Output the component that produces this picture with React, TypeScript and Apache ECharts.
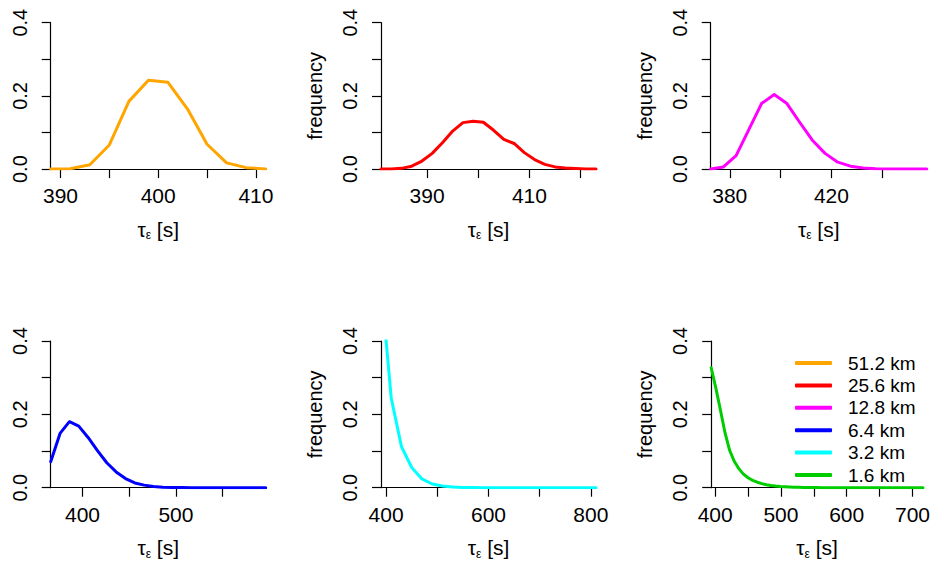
import React, { useEffect, useRef } from "react";
import * as echarts from "echarts";

// ---- data ----
const seriesNames = ["51.2 km", "25.6 km", "12.8 km", "6.4 km", "3.2 km", "1.6 km"];
const seriesColors = ["#FFA500", "#FF0000", "#FF00FF", "#0000FF", "#00FFFF", "#00CD00"];

const x512 = [389, 391, 393, 395, 397, 399, 401, 403, 405, 407, 409, 411];
const y512 = [0, 0.001, 0.012, 0.066, 0.185, 0.243, 0.237, 0.164, 0.068, 0.017, 0.004, 0.0005];

const x256 = [381, 383, 385, 387, 389, 391, 393, 395, 397, 399, 401, 403, 405, 407, 409, 411, 413, 415, 417, 419, 421, 423];
const y256 = [0, 0.0005, 0.002, 0.008, 0.022, 0.043, 0.072, 0.104, 0.127, 0.131, 0.128, 0.106, 0.081, 0.07, 0.045, 0.026, 0.013, 0.006, 0.003, 0.0015, 0.0005, 0];

const x128 = [372.5, 377.5, 382.5, 387.5, 392.5, 397.5, 402.5, 407.5, 412.5, 417.5, 422.5, 427.5, 432.5, 437.5, 442.5, 447.5, 452.5, 457.5];
const y128 = [0, 0.006, 0.037, 0.108, 0.179, 0.204, 0.179, 0.128, 0.079, 0.043, 0.019, 0.008, 0.003, 0.001, 0.0004, 0.0001, 0, 0];

const x64 = [366, 376, 386, 396, 406, 416, 426, 436, 446, 456, 466, 476, 486, 496, 506, 516, 526, 536, 546, 556, 566, 576, 586, 596];
const y64 = [0.071, 0.148, 0.18, 0.168, 0.137, 0.101, 0.068, 0.043, 0.025, 0.013, 0.007, 0.003, 0.0015, 0.0007, 0.0003, 0, 0, 0, 0, 0, 0, 0, 0, 0];

const x32 = [390, 410, 430, 450, 470, 490, 510, 530, 550, 570, 590, 610, 630, 650, 670, 690, 710, 730, 750, 770, 790, 810];
const y32 = [0.556, 0.244, 0.112, 0.055, 0.024, 0.01, 0.0045, 0.002, 0.0008, 0.0003, 0.0001, 0, 0, 0, 0, 0, 0, 0, 0, 0, 0, 0];

const x16 = [394, 401, 408, 415, 422, 429, 436, 443, 450, 457, 464, 471, 478, 485, 492, 499, 506, 513, 520, 527, 534, 541, 548, 555, 562, 569, 576, 600, 650, 700, 716];
const y16 = [0.327, 0.272, 0.212, 0.15, 0.102, 0.072, 0.052, 0.037, 0.027, 0.02, 0.015, 0.011, 0.008, 0.006, 0.0045, 0.0033, 0.0025, 0.0018, 0.0013, 0.001, 0.0008, 0.0006, 0.0004, 0.0003, 0.0002, 0.0001, 0, 0, 0, 0, 0];

const xData = [x512, x256, x128, x64, x32, x16];
const yData = [y512, y256, y128, y64, y32, y16];

const xMin = [389, 381, 372.5, 366, 390, 394];
const xMax = [411, 423, 457.5, 596, 810, 716];
const xTicks = [
  [390, 395, 400, 405, 410],
  [390, 400, 410, 420],
  [380, 400, 420, 440],
  [400, 450, 500, 550],
  [400, 500, 600, 700, 800],
  [400, 450, 500, 550, 600, 650, 700],
];
const xLabels = [
  [390, 400, 410],
  [390, 410],
  [380, 420],
  [400, 500],
  [400, 600, 800],
  [400, 500, 600, 700],
];
const yTicks = [0, 0.1, 0.2, 0.3, 0.4];
const yLabels = [0, 0.2, 0.4];
const showYName = [false, true, true, false, true, true];

const xAxisTitle = "{t|τ}{e|ε}{s| [s]}";
const yAxisTitle = "frequency";

// ---- layout ----
const gridBoxes = [
  { left: 50.7, top: 22.7, width: 215, height: 146.4 },
  { left: 381, top: 22.7, width: 215, height: 146.4 },
  { left: 710.7, top: 22.7, width: 216, height: 146.4 },
  { left: 50.7, top: 341, width: 215, height: 146.7 },
  { left: 381, top: 341, width: 215, height: 146.7 },
  { left: 711.2, top: 341, width: 215.5, height: 146.7 },
];

const FONT = '"Liberation Sans", Arial, Helvetica, sans-serif';

export default function App() {
  const ref = useRef<HTMLDivElement>(null);

  useEffect(() => {
    if (!ref.current) return;
    const chart = echarts.init(ref.current, undefined, { renderer: "svg" });

    const axisLine = { show: true, onZero: false, lineStyle: { color: "#000", width: 1.2 } };
    const axisTickBase = { show: true, length: 9, lineStyle: { color: "#000", width: 1.2 } };

    const grid = gridBoxes.map((g) => ({ ...g, containLabel: false }));

    const xAxis = gridBoxes.map((_, i) => ({
      type: "value",
      gridIndex: i,
      min: xMin[i],
      max: xMax[i],
      axisLine,
      axisTick: { ...axisTickBase, customValues: xTicks[i] },
      axisLabel: {
        customValues: xLabels[i],
        color: "#000",
        fontSize: 21,
        fontFamily: FONT,
        margin: 16,
        formatter: (v: number) => String(v),
      },
      splitLine: { show: false },
      name: xAxisTitle,
      nameLocation: "middle",
      nameGap: 48,
      nameTextStyle: {
        color: "#000",
        fontFamily: FONT,
        rich: {
          t: { fontSize: 21, fontFamily: FONT, color: "#000", lineHeight: 24 },
          e: { fontSize: 12, fontFamily: FONT, color: "#000", lineHeight: 12, verticalAlign: "bottom" },
          s: { fontSize: 21, fontFamily: FONT, color: "#000", lineHeight: 24 },
        },
      },
    }));

    const yAxis = gridBoxes.map((_, i) => ({
      type: "value",
      gridIndex: i,
      min: 0,
      max: 0.4,
      axisLine,
      axisTick: { ...axisTickBase, customValues: yTicks },
      axisLabel: {
        customValues: yLabels,
        rotate: 90,
        color: "#000",
        fontSize: 20,
        fontFamily: FONT,
        margin: 21,
        formatter: (v: number) => v.toFixed(1),
      },
      splitLine: { show: false },
      name: showYName[i] ? yAxisTitle : "",
      nameLocation: "middle",
      nameRotate: 90,
      nameGap: 56,
      nameTextStyle: { color: "#000", fontSize: 20, fontFamily: FONT },
    }));

    const series = seriesNames.map((name, i) => ({
      name,
      type: "line",
      xAxisIndex: i,
      yAxisIndex: i,
      data: xData[i].map((x, k) => [x, yData[i][k]]),
      showSymbol: false,
      symbol: "none",
      clip: true,
      color: seriesColors[i],
      lineStyle: { color: seriesColors[i], width: 3, join: "round", cap: "round" },
    }));

    chart.setOption({
      animation: false,
      backgroundColor: "#fff",
      grid,
      xAxis,
      yAxis,
      series,
      legend: {
        orient: "vertical",
        left: 790,
        top: 348,
        itemWidth: 37,
        itemHeight: 4,
        itemGap: 2.4,
        icon: "roundRect",
        selectedMode: false,
        data: seriesNames,
        textStyle: {
          color: "#000",
          fontSize: 19,
          fontFamily: FONT,
          lineHeight: 20,
          padding: [0, 0, 0, 11],
        },
      },
    });

    return () => chart.dispose();
  }, []);

  return (
    <div
      ref={ref}
      style={{ position: "fixed", left: 0, top: 0, width: 933, height: 563, background: "#fff" }}
    />
  );
}
